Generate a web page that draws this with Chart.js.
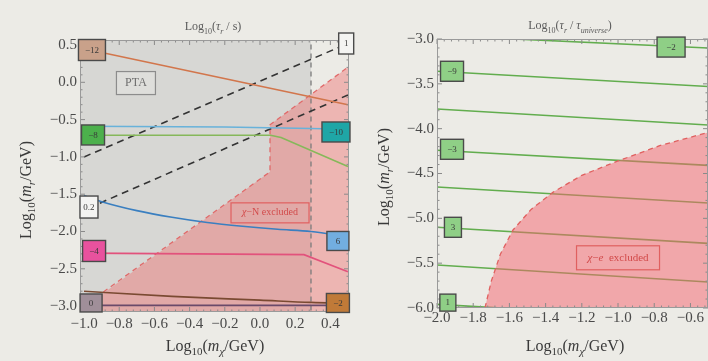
<!DOCTYPE html>
<html>
<head>
<meta charset="utf-8">
<script src="https://cdn.jsdelivr.net/npm/chart.js@4.4.0/dist/chart.umd.min.js"></script>
<style>
  html, body { margin: 0; padding: 0; background: #ecebe6; }
  #wrap { position: relative; width: 708px; height: 361px; overflow: hidden; }
  #c1 { position: absolute; left: 0; top: 0; }
  #c2 { position: absolute; left: 360px; top: 0; }
</style>
</head>
<body>
<div id="wrap">
  <canvas id="c1" width="360" height="361"></canvas>
  <canvas id="c2" width="348" height="361"></canvas>
</div>
<script>
// ---------- tick labels ----------
const leftXTicks  = [-1.0, -0.8, -0.6, -0.4, -0.2, 0.0, 0.2, 0.4];
const leftYTicks  = [-3.0, -2.5, -2.0, -1.5, -1.0, -0.5, 0.0, 0.5];
const rightXTicks = [-2.0, -1.8, -1.6, -1.4, -1.2, -1.0, -0.8, -0.6];
const rightYTicks = [-6.0, -5.5, -5.0, -4.5, -4.0, -3.5, -3.0];

// ---------- left panel: contours of Log10(tau_r / s) ----------
const orangeX = [-1.0, 0.5],                      orangeY = [0.45, -0.30];      // -12
const cyanX   = [-1.0, -0.2, 0.29, 0.5],          cyanY   = [-0.59, -0.60, -0.62, -0.63]; // -10
const greenX  = [-1.0, 0.06, 0.12, 0.5],          greenY  = [-0.71, -0.71, -0.74, -1.13]; // -8
const blueX   = [-1.0, -0.9, -0.7, -0.5, -0.3, -0.1, 0.1, 0.29, 0.5];
const blueY   = [-1.52, -1.60, -1.72, -1.81, -1.88, -1.93, -1.97, -2.00, -2.07];          // 6
const pinkX   = [-1.0, 0.25, 0.5],                pinkY   = [-2.29, -2.31, -2.54];        // -4
const brownX  = [-1.0, -0.5, 0.0, 0.29, 0.5],     brownY  = [-2.80, -2.87, -2.92, -2.95, -2.96]; // -2
const purpleX = [-1.0, 0.5],                      purpleY = [-2.99, -2.99];      // 0
const dashAX  = [-1.0, 0.45],                     dashAY  = [-1.0, 0.47];        // 1
const dashBX  = [-0.91, 0.5],                     dashBY  = [-1.62, -0.17];      // 0.2
// PTA band and chi-N exclusion edge
const ptaEdgeX = 0.29;
const chiNX = [-0.89, 0.057, 0.057, 0.51],        chiNY = [-2.81, -1.20, -0.57, 0.22];

// ---------- right panel: contours of Log10(tau_r / tau_universe) ----------
const rLineX = [-2.0, -0.5];
const rLinesY = [
  [-2.96, -3.10],  // -2
  [-3.36, -3.53],  // -9
  [-3.78, -3.96],
  [-4.24, -4.41],  // -3
  [-4.65, -4.83],
  [-5.10, -5.28],  // 3
  [-5.52, -5.71],
  [-5.96, -6.13]   // 1
];
const chiEX = [-1.735, -1.70, -1.65, -1.58, -1.48, -1.36, -1.20, -1.00, -0.77, -0.50];
const chiEY = [-6.00, -5.70, -5.40, -5.13, -4.90, -4.71, -4.52, -4.36, -4.19, -4.04];

// ---------- contour labels ----------
const leftBoxes = [
  { t: '−12', x: -0.955, y: 0.433,  w: 27, h: 21, c: '#c9a18a' },
  { t: '−8',  x: -0.949, y: -0.706, w: 23, h: 20, c: '#4cb04c' },
  { t: '−10', x: 0.432,  y: -0.666, w: 28, h: 20, c: '#1fa6a6' },
  { t: '0.2', x: -0.972, y: -1.672, w: 18, h: 22, c: '#f4f4f2' },
  { t: '6',   x: 0.443,  y: -2.127, w: 22, h: 19, c: '#72aee0' },
  { t: '−4',  x: -0.943, y: -2.261, w: 23, h: 21, c: '#e8529e' },
  { t: '0',   x: -0.960, y: -2.958, w: 22, h: 18, c: '#a08f99' },
  { t: '−2',  x: 0.443,  y: -2.958, w: 23, h: 19, c: '#c07a38' },
  { t: '1',   x: 0.49,   y: 0.52,   w: 15, h: 21, c: '#f4f4f2' }
];
const rightBoxes = [
  { t: '−2', x: -0.707, y: -3.09, w: 28, h: 20, c: '#8fcf86' },
  { t: '−9', x: -1.917, y: -3.36, w: 23, h: 20, c: '#8fcf86' },
  { t: '−3', x: -1.917, y: -4.23, w: 23, h: 20, c: '#8fcf86' },
  { t: '3',  x: -1.912, y: -5.10, w: 17, h: 20, c: '#8fcf86' },
  { t: '1',  x: -1.94,  y: -5.94, w: 16, h: 17, c: '#8fcf86' }
];

const SERIF = '"Liberation Serif", "DejaVu Serif", serif';

function pts(xs, ys) { return xs.map((x, i) => ({ x: x, y: ys[i] })); }
function lineSet(xs, ys, color, extra) {
  return Object.assign({ data: pts(xs, ys), borderColor: color, borderWidth: 1.6,
    pointRadius: 0, fill: false, clip: 0, order: 2 }, extra || {});
}
function areaSet(xs, ys, color, order) {
  return { data: pts(xs, ys), borderWidth: 0, borderColor: 'rgba(0,0,0,0)',
    backgroundColor: color, pointRadius: 0, fill: 'shape', clip: 0, order: order };
}
function fmt(v) { return (v < -1e-9 ? '−' : '') + Math.abs(v).toFixed(1); }

// text with subscripts / italics, centred on (cx, cy)
function richText(ctx, cx, cy, parts, size, color, rot) {
  const fontFor = k => (k.indexOf('i') >= 0 ? 'italic ' : '') +
    (k.indexOf('s') >= 0 ? Math.round(size * 0.68) : size) + 'px ' + SERIF;
  ctx.save();
  ctx.translate(cx, cy);
  if (rot) ctx.rotate(rot);
  ctx.textAlign = 'left';
  let w = 0;
  parts.forEach(p => { ctx.font = fontFor(p[1]); w += ctx.measureText(p[0]).width; });
  let x = -w / 2;
  ctx.fillStyle = color;
  ctx.textBaseline = 'alphabetic';
  parts.forEach(p => {
    ctx.font = fontFor(p[1]);
    ctx.fillText(p[0], x, size * 0.35 + (p[1].indexOf('s') >= 0 ? size * 0.28 : 0));
    x += ctx.measureText(p[0]).width;
  });
  ctx.restore();
}

function decoPlugin(cfg) {
  return {
    id: 'deco',
    afterDatasetsDraw(chart) {
      const ctx = chart.ctx, a = chart.chartArea;
      const xs = chart.scales.x, ys = chart.scales.y;
      ctx.save();
      // inward ticks
      ctx.strokeStyle = '#8a8a8a';
      ctx.lineWidth = 1;
      const minor = (ticks, lo, hi) => {
        const step = (ticks[1] - ticks[0]) / 5, out = [];
        for (let v = ticks[0] - 5 * step; v <= hi + 1e-9; v += step) {
          if (v >= lo - 1e-9 && ticks.every(t => Math.abs(t - v) > 1e-6)) out.push(v);
        }
        return out;
      };
      const tickX = (v, len) => {
        const p = xs.getPixelForValue(v);
        ctx.beginPath();
        ctx.moveTo(p, a.bottom); ctx.lineTo(p, a.bottom - len);
        ctx.moveTo(p, a.top); ctx.lineTo(p, a.top + len);
        ctx.stroke();
      };
      const tickY = (v, len) => {
        const p = ys.getPixelForValue(v);
        ctx.beginPath();
        ctx.moveTo(a.left, p); ctx.lineTo(a.left + len, p);
        ctx.moveTo(a.right, p); ctx.lineTo(a.right - len, p);
        ctx.stroke();
      };
      cfg.xTicks.forEach(v => tickX(v, 5));
      minor(cfg.xTicks, xs.min, xs.max).forEach(v => tickX(v, 2.5));
      cfg.yTicks.forEach(v => tickY(v, 5));
      minor(cfg.yTicks, ys.min, ys.max).forEach(v => tickY(v, 2.5));
      // frame
      ctx.strokeStyle = '#9a9a9a';
      ctx.strokeRect(a.left + 0.5, a.top + 0.5, a.right - a.left - 1, a.bottom - a.top - 1);
      // contour label boxes
      cfg.boxes.forEach(b => {
        const cx = xs.getPixelForValue(b.x), cy = ys.getPixelForValue(b.y);
        ctx.fillStyle = b.c;
        ctx.fillRect(cx - b.w / 2, cy - b.h / 2, b.w, b.h);
        ctx.strokeStyle = '#4a4a4a';
        ctx.lineWidth = 1.4;
        ctx.strokeRect(cx - b.w / 2, cy - b.h / 2, b.w, b.h);
        ctx.fillStyle = '#3a3a3a';
        ctx.font = '9px ' + SERIF;
        ctx.textAlign = 'center';
        ctx.textBaseline = 'middle';
        ctx.fillText(b.t, cx, cy + 0.5);
      });
      // region labels
      cfg.regions.forEach(r => {
        const cx = xs.getPixelForValue(r.x), cy = ys.getPixelForValue(r.y);
        if (r.fill) { ctx.fillStyle = r.fill; ctx.fillRect(cx - r.w / 2, cy - r.h / 2, r.w, r.h); }
        ctx.strokeStyle = r.border;
        ctx.lineWidth = 1.2;
        ctx.strokeRect(cx - r.w / 2, cy - r.h / 2, r.w, r.h);
        richText(ctx, cx, cy - 1, r.parts, r.size, r.color, 0);
      });
      ctx.restore();
    },
    afterDraw(chart) {
      const ctx = chart.ctx;
      cfg.titles.forEach(t => richText(ctx, t.x, t.y, t.parts, t.size, t.color, t.rot));
    }
  };
}

function makeChart(id, cfg) {
  return new Chart(document.getElementById(id), {
    type: 'line',
    data: { datasets: cfg.datasets },
    options: {
      responsive: false,
      animation: false,
      events: [],
      layout: { padding: cfg.padding },
      plugins: { legend: { display: false }, tooltip: { enabled: false } },
      scales: {
        x: {
          type: 'linear', min: cfg.xRange[0], max: cfg.xRange[1],
          grid: { display: false, drawTicks: false }, border: { display: false },
          afterBuildTicks: s => { s.ticks = cfg.xTicks.map(v => ({ value: v })); },
          afterFit: s => { s.height = 22; },
          ticks: { callback: fmt, autoSkip: false, maxRotation: 0, padding: cfg.xPad,
                   color: '#4a4a4a', font: { family: SERIF, size: 15 } }
        },
        y: {
          type: 'linear', min: cfg.yRange[0], max: cfg.yRange[1],
          grid: { display: false, drawTicks: false }, border: { display: false },
          afterBuildTicks: s => { s.ticks = cfg.yTicks.map(v => ({ value: v })); },
          afterFit: s => { s.width = 45; },
          ticks: { callback: fmt, autoSkip: false, padding: 3,
                   color: '#4a4a4a', font: { family: SERIF, size: 15 } }
        }
      }
    },
    plugins: [decoPlugin(cfg)]
  });
}

const xTitle = [['Log', 'n'], ['10', 's'], ['(', 'n'], ['m', 'i'], ['χ', 'si'], ['/GeV)', 'n']];
const yTitle = [['Log', 'n'], ['10', 's'], ['(', 'n'], ['m', 'i'], ['r', 'si'], ['/GeV)', 'n']];

// ---------- left chart ----------
makeChart('c1', {
  xRange: [-1.023, 0.506], yRange: [-3.079, 0.567],
  xTicks: leftXTicks, yTicks: leftYTicks, xPad: 3,
  padding: { left: 35, right: 11, top: 40, bottom: 27 },
  datasets: [
    areaSet([-1.1, ptaEdgeX, ptaEdgeX, -1.1], [-3.3, -3.3, 0.8, 0.8], '#d7d7d4', 10),
    areaSet([-1.1, -1.06, 0.057, 0.057, 0.51, 0.6, 0.6], [-3.3, -3.12, -1.20, -0.57, 0.22, 0.22, -3.3],
            'rgba(240,100,100,0.40)', 9),
    lineSet(chiNX, chiNY, '#e06a6a', { borderWidth: 1.3, borderDash: [5, 4], order: 8 }),
    lineSet([ptaEdgeX, ptaEdgeX], [-3.3, 0.8], '#7c7c7c', { borderWidth: 1.3, borderDash: [5, 4], order: 7 }),
    lineSet(dashAX, dashAY, '#333333', { borderDash: [7, 5], order: 6 }),
    lineSet(dashBX, dashBY, '#333333', { borderDash: [7, 5], order: 6 }),
    lineSet(orangeX, orangeY, '#d2764c'),
    lineSet(cyanX, cyanY, '#68b2da'),
    lineSet(greenX, greenY, '#86b85a'),
    lineSet(blueX, blueY, '#3a7fc0', { cubicInterpolationMode: 'monotone' }),
    lineSet(pinkX, pinkY, '#e2527c'),
    lineSet(brownX, brownY, '#7a4a32', { cubicInterpolationMode: 'monotone' }),
    lineSet(purpleX, purpleY, '#6a4a6a')
  ],
  boxes: leftBoxes,
  regions: [
    { x: -0.705, y: -0.01, w: 39, h: 23, fill: '#dededb', border: '#8c8c8c',
      parts: [['PTA', 'n']], size: 12, color: '#6e6e6e' },
    { x: 0.057, y: -1.75, w: 78, h: 20, fill: null, border: '#e06060',
      parts: [['χ', 'i'], ['−N excluded', 'n']], size: 10, color: '#d24a4a' }
  ],
  titles: [
    { x: 213, y: 26, parts: [['Log', 'n'], ['10', 's'], ['(', 'n'], ['τ', 'i'], ['r', 'si'], [' / s)', 'n']],
      size: 12, color: '#5a5a5a' },
    { x: 215, y: 345, parts: xTitle, size: 16, color: '#3a3a3a' },
    { x: 25, y: 190, parts: yTitle, size: 16, color: '#3a3a3a', rot: -Math.PI / 2 }
  ]
});

// ---------- right chart ----------
const rightSets = rLinesY.map(ys => lineSet(rLineX, ys, '#62ad4e', { order: 3 }));
rightSets.push(areaSet(chiEX.concat([-0.4, -0.4, -1.8]), chiEY.concat([-4.0, -6.2, -6.2]),
  'rgba(245,100,110,0.5)', 1));
rightSets.push(lineSet(chiEX, chiEY, '#e06060', { borderWidth: 1.3, borderDash: [5, 4], order: 0 }));

makeChart('c2', {
  xRange: [-2.0, -0.503], yRange: [-6.0, -3.0],
  xTicks: rightXTicks, yTicks: rightYTicks, xPad: 1,
  padding: { left: 32, right: 0, top: 39, bottom: 31 },
  datasets: rightSets,
  boxes: rightBoxes,
  regions: [
    { x: -1.0, y: -5.44, w: 83, h: 24, fill: null, border: '#e06060',
      parts: [['χ', 'i'], ['−', 'n'], ['e', 'i'], ['  excluded', 'n']], size: 11, color: '#d24a4a' }
  ],
  titles: [
    { x: 210, y: 25, parts: [['Log', 'n'], ['10', 's'], ['(', 'n'], ['τ', 'i'], ['r', 'si'], [' / ', 'n'],
      ['τ', 'i'], ['universe', 'si'], [')', 'n']], size: 12, color: '#5a5a5a' },
    { x: 215, y: 345, parts: xTitle, size: 16, color: '#3a3a3a' },
    { x: 23, y: 177, parts: yTitle, size: 16, color: '#3a3a3a', rot: -Math.PI / 2 }
  ]
});
</script>
</body>
</html>
